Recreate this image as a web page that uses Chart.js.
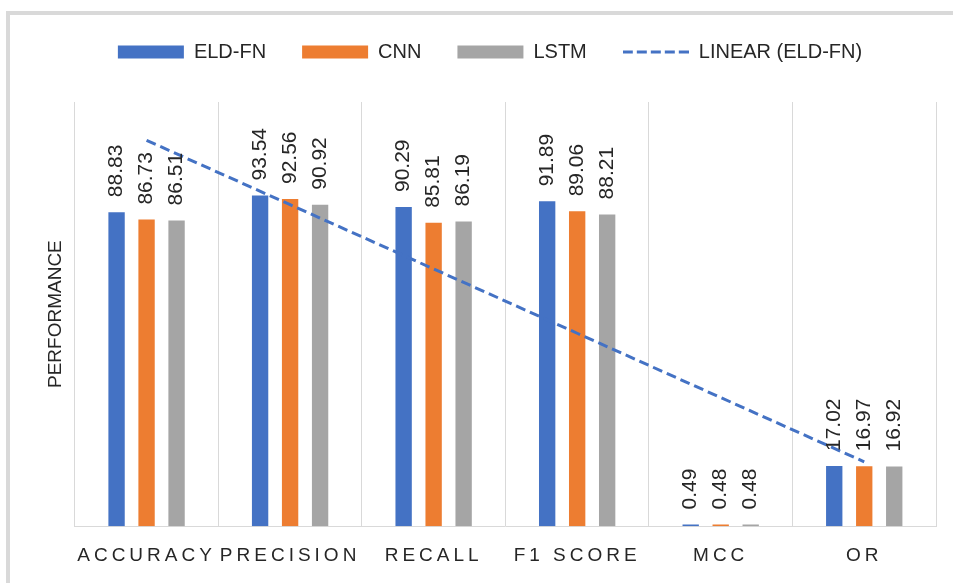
<!DOCTYPE html>
<html>
<head>
<meta charset="utf-8">
<title>Performance</title>
<script src="https://cdn.jsdelivr.net/npm/chart.js@4.4.0/dist/chart.umd.min.js"></script>
<style>
    html, body { margin: 0; padding: 0; background: #fff; overflow: hidden; }
    #frame { position: absolute; left: 6px; top: 11px; width: 1000px; height: 640px; border-left: 4px solid #d9d9d9; border-top: 4px solid #d9d9d9; }
    #perfChart { position: absolute; left: 0; top: 0; }
</style>
</head>
<body>
<div id="frame"></div>
<canvas id="perfChart" width="953" height="583"></canvas>
<script>
// Values
const categories = ['ACCURACY', 'PRECISION', 'RECALL', 'F1 SCORE', 'MCC', 'OR'];
const eldfnValues = [88.83, 93.54, 90.29, 91.89, 0.49, 17.02];
const cnnValues = [86.73, 92.56, 85.81, 89.06, 0.48, 16.97];
const lstmValues = [86.51, 90.92, 86.19, 88.21, 0.48, 16.92];
const seriesNames = ['ELD-FN', 'CNN', 'LSTM', 'LINEAR (ELD-FN)'];
const yMin = 0;
const yMax = 120;

Chart.defaults.font.family = "'Liberation Sans', Arial, sans-serif";
Chart.defaults.color = '#262626';

// Excel-style linear trendline (least squares over the category index)
function linearTrend(values) {
    var n = values.length;
    var mx = (n + 1) / 2;
    var my = values.reduce((a, b) => a + b, 0) / n;
    var sxy = 0, sxx = 0;
    values.forEach((v, i) => {
        sxy += (i + 1 - mx) * (v - my);
        sxx += (i + 1 - mx) * (i + 1 - mx);
    });
    var slope = sxy / sxx;
    return values.map((v, i) => my + slope * (i + 1 - mx));
}

// Small dashed swatch for the trendline legend entry
function dashSwatch() {
    var c = document.createElement('canvas');
    c.width = 66;
    c.height = 4;
    var g = c.getContext('2d');
    g.strokeStyle = '#4472c4';
    g.lineWidth = 3;
    g.setLineDash([10, 4]);
    g.beginPath();
    g.moveTo(0, 2);
    g.lineTo(66, 2);
    g.stroke();
    return c;
}

// Rotated value labels above each bar
const barLabels = {
    id: 'barLabels',
    afterDatasetsDraw(chart) {
        var ctx = chart.ctx;
        chart.data.datasets.forEach((ds, i) => {
            if (ds.type === 'line') return;
            var meta = chart.getDatasetMeta(i);
            meta.data.forEach((bar, j) => {
                ctx.save();
                ctx.translate(bar.x, bar.y - 15);
                ctx.rotate(-Math.PI / 2);
                ctx.font = "21px 'Liberation Sans', Arial, sans-serif";
                ctx.fillStyle = '#262626';
                ctx.textAlign = 'left';
                ctx.textBaseline = 'middle';
                ctx.fillText(ds.data[j].toFixed(2), 0, 0);
                ctx.restore();
            });
        });
    }
};

// Letter spacing on the category labels, extra room under the legend
const layoutTweaks = {
    id: 'layoutTweaks',
    beforeLayout(chart) {
        var lg = chart.legend;
        if (lg && !lg._padded) {
            var fit = lg.fit.bind(lg);
            lg.fit = function() {
                fit();
                lg.height += 30;
            };
            lg._padded = true;
        }
    },
    beforeDraw(chart) {
        var xs = chart.scales.x;
        if (xs._spaced) return;
        var orig = xs.drawLabels.bind(xs);
        xs.drawLabels = function(area) {
            xs.ctx.save();
            xs.ctx.letterSpacing = '4px';
            orig(area);
            xs.ctx.restore();
        };
        xs._spaced = true;
    }
};

var ctx = document.getElementById('perfChart').getContext('2d');
new Chart(ctx, {
    type: 'bar',
    data: {
        labels: categories,
        datasets: [
            { label: seriesNames[0], data: eldfnValues, backgroundColor: '#4472c4', borderWidth: 0, pointStyle: 'rect' },
            { label: seriesNames[1], data: cnnValues, backgroundColor: '#ed7d31', borderWidth: 0, pointStyle: 'rect' },
            { label: seriesNames[2], data: lstmValues, backgroundColor: '#a5a5a5', borderWidth: 0, pointStyle: 'rect' },
            {
                type: 'line',
                label: seriesNames[3],
                data: linearTrend(eldfnValues),
                borderColor: '#4472c4',
                backgroundColor: '#4472c4',
                borderWidth: 3,
                borderDash: [10, 5],
                pointRadius: 0,
                pointStyle: dashSwatch(),
                fill: false,
                order: -1
            }
        ]
    },
    options: {
        responsive: false,
        animation: false,
        categoryPercentage: 0.627,
        barPercentage: 0.545,
        layout: { padding: { top: 6, left: 44, right: 17, bottom: -2 } },
        plugins: {
            tooltip: { enabled: false },
            legend: {
                position: 'top',
                labels: {
                    usePointStyle: true,
                    pointStyleWidth: 66,
                    boxHeight: 13,
                    padding: 36,
                    color: '#262626',
                    font: { size: 20 },
                    sort: (a, b) => a.datasetIndex - b.datasetIndex
                }
            }
        },
        scales: {
            x: {
                grid: { display: true, color: '#d9d9d9', lineWidth: 1, drawTicks: false },
                border: { display: true, color: '#d9d9d9', width: 1 },
                ticks: { color: '#262626', font: { size: 19 }, padding: 18, maxRotation: 0, autoSkip: false }
            },
            y: {
                min: yMin,
                max: yMax,
                grid: { display: false, drawTicks: false },
                border: { display: false },
                ticks: { display: false },
                title: { display: true, text: 'PERFORMANCE', color: '#262626', font: { size: 19 }, padding: { top: 0, bottom: 8 } }
            }
        }
    },
    plugins: [barLabels, layoutTweaks]
});
</script>
</body>
</html>
